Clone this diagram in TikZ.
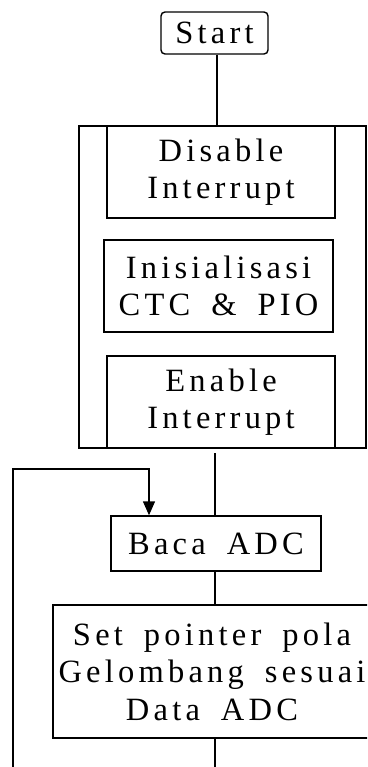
\documentclass[tikz,border=0pt]{standalone}
\usepackage{fontspec}
\setmainfont[LetterSpace=13, WordSpace=1.7]{Liberation Serif}
\usetikzlibrary{arrows.meta}

\tikzset{
  box/.style={draw, line width=1.4pt, inner sep=0pt, align=center,
    font=\fontsize{32.5}{37.5}\selectfont},
  term/.style={box, rounded corners=4pt},
  flow/.style={line width=1.4pt},
}

\begin{document}
\begin{tikzpicture}[x=1pt, y=-1pt, > = {Triangle[length=14pt, width=12pt]}]
	\clip (0,0) rectangle (367,767);
	
	\node [term, minimum width=107pt, minimum height=42pt] (start) at (214.5,33) {Start};
	
	% initialisation block
	\node [draw, line width=1.2pt, inner sep=0pt, minimum width=287pt, minimum height=322pt] (init) at (222.5,287) {};
	\node [box, minimum width=228pt, minimum height=92pt] (disable) at (221,172) {Disable\\Interrupt};
	\node [box, minimum width=229pt, minimum height=92pt] (ctcpio) at (218.5,286) {Inisialisasi\\CTC \& PIO};
	\node [box, minimum width=228pt, minimum height=92pt] (enable) at (221,402) {Enable\\Interrupt};
	
	% main loop
	\node [box, minimum width=210pt, minimum height=55pt] (baca) at (216,543.5) {Baca ADC};
	\node [box, minimum width=318pt, minimum height=133pt] (setptr) at (212,671.5) {Set pointer pola\\Gelombang sesuai\\Data ADC};
	
	\coordinate (stem) at (217,0);
	\coordinate (tail) at (215,453);
	\coordinate (ret) at (13,800);
	\coordinate (entry) at (149,469);
	\coordinate (down) at (215,800);
	
	\draw [flow] (start.south -| stem) -- (stem |- init.north);
	\draw [flow] (tail) -- (tail |- baca.north);
	\draw [flow, ->] (ret) |- (entry) -- (entry |- baca.north);
	\draw [flow] (baca.south -| tail) -- (tail |- setptr.north);
	\draw [flow] (setptr.south -| down) -- (down);
\end{tikzpicture}
\end{document}
